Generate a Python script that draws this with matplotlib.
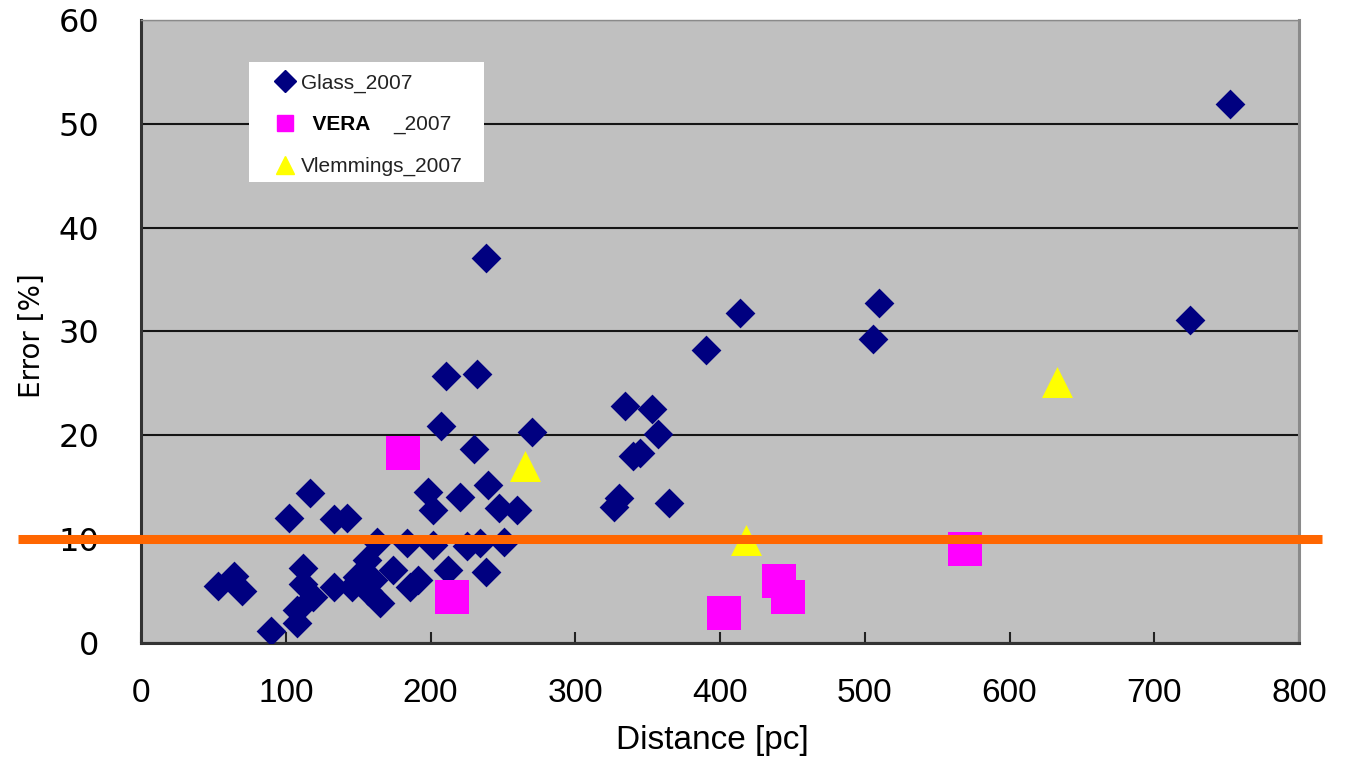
import matplotlib
matplotlib.use("Agg")
import matplotlib.pyplot as plt
from matplotlib.lines import Line2D
from matplotlib.patches import Rectangle

# Glass 2007 sample: distance [pc] and relative error [%]
glass_dist = [53, 64, 70, 90, 108, 108, 102, 117, 112, 112, 119, 133, 133, 142,
              146, 149, 156, 160, 157, 165, 163, 174, 184, 186, 191, 198, 202, 202,
              207, 211, 212, 220, 225, 230, 232, 234, 238, 238, 240, 247, 251, 260,
              270, 327, 330, 334, 340, 345, 353, 357, 365, 390, 414, 506, 510, 725, 752]
glass_err = [5.5, 6.5, 5.0, 1.2, 1.9, 3.2, 12.0, 14.4, 7.2, 5.7, 4.4, 5.4, 11.9, 12.0,
             5.4, 6.4, 8.0, 6.1, 5.0, 3.9, 9.7, 7.0, 9.6, 5.4, 6.1, 14.5, 12.8, 9.4,
             20.9, 25.7, 7.0, 14.1, 9.3, 18.7, 25.9, 9.6, 37.1, 6.8, 15.2, 13.0, 9.7, 12.8,
             20.3, 13.1, 14.0, 22.8, 18.0, 18.3, 22.5, 20.1, 13.5, 28.2, 31.8, 29.3, 32.7, 31.1, 51.9]

# VERA 2007
vera_dist = [181, 215, 403, 441, 447, 569]
vera_err = [18.3, 4.4, 2.9, 6.0, 4.4, 9.1]

# Vlemmings 2007
vlem_dist = [265, 418, 633]
vlem_err = [17.0, 9.9, 25.1]

threshold = 10

fig = plt.figure(figsize=(13.46, 7.57), dpi=100)
fig.patch.set_facecolor("white")
ax = fig.add_axes([0.1048, 0.1506, 0.8603, 0.823])
ax.set_facecolor("#c0c0c0")

ax.scatter(glass_dist, glass_err, marker="D", s=230, color="#000080", linewidths=0, zorder=3)
ax.scatter(vera_dist, vera_err, marker="s", s=565, color="#ff00ff", linewidths=0, zorder=3)
ax.scatter(vlem_dist, vlem_err, marker="^", s=497, color="#ffff00", linewidths=0, zorder=3)

# 10% line running past both sides of the plot area
ax.axhline(threshold, xmin=-0.106, xmax=1.02, color="#ff6600", lw=6.5, clip_on=False,
           solid_capstyle="butt", zorder=5)

ax.set_xlim(0, 800)
ax.set_ylim(0, 60)
ax.set_xticks(range(0, 801, 100))
ax.set_yticks(range(0, 61, 10))
ax.set_axisbelow(True)
ax.yaxis.grid(True, color="#151515", lw=1.5)

for side in ["left", "bottom"]:
    ax.spines[side].set_color("#333333")
    ax.spines[side].set_linewidth(2.2)
ax.spines["right"].set_color("#8a8a8a")
ax.spines["right"].set_linewidth(2.2)
ax.spines["top"].set_color("#8a8a8a")
ax.spines["top"].set_linewidth(1.0)

ax.tick_params(axis="x", direction="in", length=8, width=1.5, color="#222222", pad=25)
ax.tick_params(axis="y", length=0, pad=30)
for lab in ax.get_xticklabels():
    lab.set_fontfamily("Liberation Sans")
    lab.set_fontsize(24)
for lab in ax.get_yticklabels():
    lab.set_fontfamily("DejaVu Sans")
    lab.set_fontsize(23)

ax.set_xlabel("Distance [pc]", fontsize=24, family="Liberation Sans", va="center", ha="center")
ax.xaxis.set_label_coords(0.493, -0.156)
ax.set_ylabel("Error [%]", fontsize=20, family="DejaVu Sans", va="center", ha="center")
ax.yaxis.set_label_coords(-0.094, 0.494)

# legend on a white panel
ax.add_patch(Rectangle((0.0933, 0.740), 0.2029, 0.1926, transform=ax.transAxes,
                       facecolor="white", edgecolor="none", zorder=6))
handles = [
    Line2D([], [], ls="none", marker="D", ms=11, color="#000080"),
    Line2D([], [], ls="none", marker="s", ms=12, color="#ff00ff"),
    Line2D([], [], ls="none", marker="^", ms=13, color="#ffff00"),
]
leg = ax.legend(handles, ["Glass_2007", "VERA", "Vlemmings_2007"], loc="upper left",
                bbox_to_anchor=(0.115, 0.914), frameon=False,
                prop={"family": "Liberation Sans", "size": 15},
                handlelength=1.0, handletextpad=0.3, labelspacing=1.08, borderpad=0,
                borderaxespad=0)
leg.set_zorder(7)
texts = leg.get_texts()
for t in texts:
    t.set_color("#222222")
texts[1].set_fontweight("bold")
texts[1].set_color("black")
texts[1].set_text("  VERA")
ax.annotate("_2007", xy=(1, 0), xycoords=texts[1], xytext=(16, 0), textcoords="offset points",
            fontsize=15, family="Liberation Sans", color="#222222", va="bottom", zorder=8)

fig.savefig("out.png", dpi=100)
